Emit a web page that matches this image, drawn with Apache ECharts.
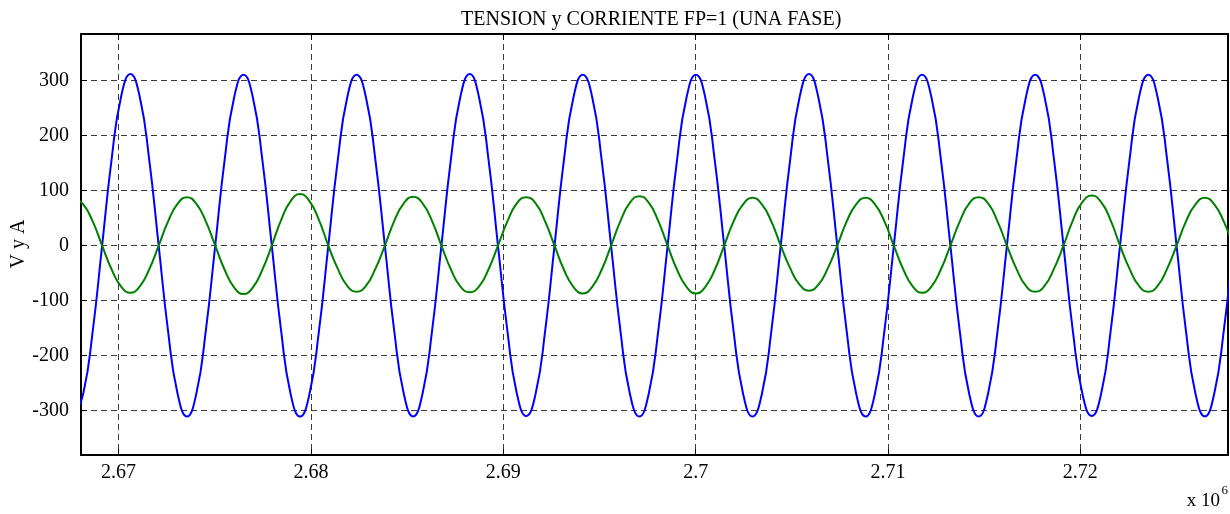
<!DOCTYPE html>
<html>
<head>
<meta charset="utf-8">
<script src="https://cdn.jsdelivr.net/npm/echarts@6/dist/echarts.min.js"></script>
<style>
  html, body { margin: 0; padding: 0; background: #fff; }
  #chart { width: 1230px; height: 514px; }
</style>
</head>
<body>
<div id="chart"></div>
<script>
// Sample times (x axis, raw units; labels shown in units of 10^6)
const TIME_START = 2667674;
const TIME_STEP = 490;

// Voltage (blue), one row per cycle
const voltage = [
  -311, -269, -156, 0, 156, 270, 312, 270, 156, 0, -156, -269,
  -311, -269, -155, 0, 156, 269, 311, 269, 156, 0, -156, -270,
  -311, -270, -156, 0, 155, 269, 311, 269, 155, 0, -156, -269,
  -311, -269, -156, 0, 156, 270, 312, 269, 156, 0, -155, -269,
  -310, -269, -156, 0, 156, 269, 311, 270, 156, 0, -156, -270,
  -311, -269, -156, 0, 156, 269, 311, 269, 155, 0, -156, -269,
  -311, -270, -156, 0, 156, 270, 312, 269, 156, 0, -156, -269,
  -311, -269, -155, 0, 156, 269, 311, 269, 156, 0, -156, -270,
  -311, -269, -156, 0, 156, 269, 311, 270, 156, 0, -156, -269,
  -310, -269, -156, 0, 155, 269, 311, 269, 156, 0, -156, -269,
  -311, -269, -156, 0
];

// Current (green), one row per cycle
const current = [
  87, 75, 44, 0, -43, -74, -86, -74, -43, 0, 44, 76,
  88, 76, 44, 0, -44, -76, -88, -76, -44, 0, 47, 81,
  94, 81, 47, 0, -42, -73, -84, -73, -42, 0, 45, 77,
  89, 77, 45, 0, -43, -74, -85, -74, -43, 0, 44, 77,
  88, 77, 44, 0, -44, -75, -87, -75, -44, 0, 45, 78,
  90, 78, 45, 0, -44, -75, -87, -75, -44, 0, 44, 75,
  87, 75, 44, 0, -41, -71, -82, -71, -41, 0, 44, 75,
  87, 75, 44, 0, -43, -74, -86, -74, -43, 0, 44, 77,
  88, 77, 44, 0, -42, -73, -84, -73, -42, 0, 46, 79,
  91, 79, 46, 0, -42, -73, -84, -73, -42, 0, 44, 75,
  87, 75, 44, 0
];

const X_MIN = 2668046, X_MAX = 2727677, X_STEP = 10000;
const Y_MIN = -381, Y_MAX = 385, Y_STEP = 100;

const TITLE = 'TENSION y CORRIENTE FP=1 (UNA FASE)';
const Y_NAME = 'V y A';

const FONT = '"Liberation Serif", "DejaVu Serif", serif';

const times = voltage.map((_, i) => TIME_START + i * TIME_STEP);
const vData = times.map((t, i) => [t, voltage[i]]);
const iData = times.map((t, i) => [t, current[i]]);

function isMultiple(v, step) {
  return Math.abs(v / step - Math.round(v / step)) < 1e-6;
}

const chart = echarts.init(document.getElementById('chart'), null, { renderer: 'canvas' });

const gridLine = { show: true, lineStyle: { color: '#3a3a3a', width: 1, type: [6, 4] } };
const boxLine = { show: true, onZero: false, lineStyle: { color: '#000', width: 2 } };
const inTick = { show: true, inside: true, length: 6, lineStyle: { color: '#000', width: 1 } };

chart.setOption({
  animation: false,
  backgroundColor: '#fff',
  title: {
    text: TITLE,
    left: 456,
    top: 5,
    textStyle: { fontFamily: FONT, fontSize: 20, fontWeight: 'normal', color: '#000' }
  },
  grid: { left: 81, right: 2, top: 34, bottom: 59, outerBoundsMode: 'none', containLabel: false },
  xAxis: [
    {
      type: 'value', min: X_MIN, max: X_MAX,
      minInterval: X_STEP, maxInterval: X_STEP,
      axisLine: boxLine, axisTick: inTick, splitLine: gridLine,
      axisLabel: {
        showMinLabel: false, showMaxLabel: false,
        margin: 8, color: '#000', fontFamily: FONT, fontSize: 20,
        formatter: v => isMultiple(v, X_STEP) ? String(+(v / 1e6).toFixed(2)) : ''
      }
    },
    {
      type: 'value', position: 'top', min: X_MIN, max: X_MAX,
      minInterval: X_STEP, maxInterval: X_STEP,
      axisLine: boxLine, axisTick: inTick, splitLine: { show: false },
      axisLabel: { show: false }
    }
  ],
  yAxis: [
    {
      type: 'value', min: Y_MIN, max: Y_MAX,
      minInterval: Y_STEP, maxInterval: Y_STEP,
      axisLine: boxLine, axisTick: inTick, splitLine: gridLine,
      axisLabel: {
        showMinLabel: false, showMaxLabel: false,
        margin: 12, color: '#000', fontFamily: FONT, fontSize: 20,
        formatter: v => isMultiple(v, Y_STEP) ? String(v) : ''
      }
    },
    {
      type: 'value', position: 'right', min: Y_MIN, max: Y_MAX,
      minInterval: Y_STEP, maxInterval: Y_STEP,
      axisLine: boxLine, axisTick: inTick, splitLine: { show: false },
      axisLabel: { show: false }
    }
  ],
  series: [
    {
      name: 'V', type: 'line', data: vData, xAxisIndex: 0, yAxisIndex: 0,
      showSymbol: false, smooth: 0.5, clip: true,
      lineStyle: { color: '#0000ff', width: 2 }, itemStyle: { color: '#0000ff' }
    },
    {
      name: 'I', type: 'line', data: iData, xAxisIndex: 0, yAxisIndex: 0,
      showSymbol: false, smooth: 0.5, clip: true,
      lineStyle: { color: '#008000', width: 2 }, itemStyle: { color: '#008000' }
    }
  ],
  graphic: [
    { type: 'text', x: 19, y: 244, rotation: Math.PI / 2,
      style: { text: Y_NAME, font: '20px ' + FONT, fill: '#000',
               textAlign: 'center', textVerticalAlign: 'middle' } },
    { type: 'text', right: 10, top: 492,
      style: { text: 'x 10', font: '19px ' + FONT, fill: '#000' } },
    { type: 'text', right: 2, top: 484,
      style: { text: '6', font: '13px ' + FONT, fill: '#000' } }
  ]
});
</script>
</body>
</html>
